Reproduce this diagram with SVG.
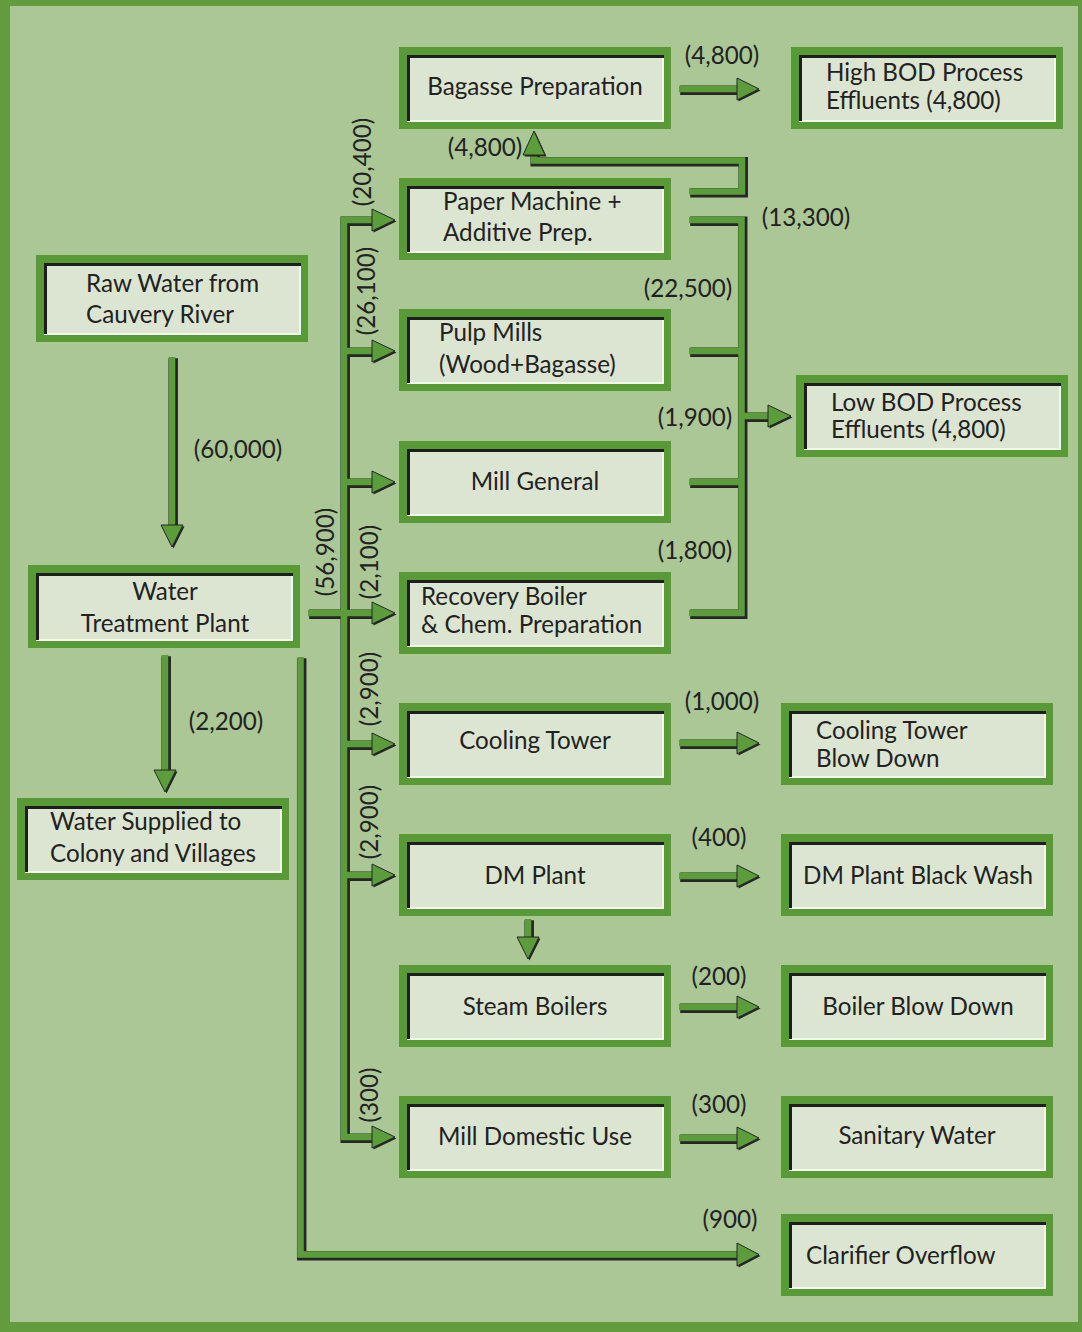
<svg xmlns="http://www.w3.org/2000/svg" width="1082" height="1332" viewBox="0 0 1082 1332">
<style>
.bg{fill:#abc796}
.page{fill:#629c3e}
.frame{fill:#579a36}
.inner{fill:#dbe5d1}
.dk{fill:none;stroke:#1e1e1e;stroke-width:3}
.lt{fill:none;stroke:#f3f6ee;stroke-width:2}
text{font-family:Lato,"Open Sans","Liberation Sans",sans-serif;font-size:24.2px;fill:#222}
.c{text-anchor:middle}
.sh{fill:none;stroke:#262626;stroke-width:9.5;stroke-linejoin:miter}
.ln{fill:none;stroke:#5b9d3a;stroke-width:6.5;stroke-linejoin:miter}
.hs{fill:#262626}
.hd{fill:#5b9d3a;stroke:#262626;stroke-width:1}
</style>
<rect class="page" x="0" y="0" width="1082" height="1332"/>
<rect class="bg" x="10" y="6" width="1068" height="1316"/>

<g id="connectors">
  <g transform="translate(1.2,1.2)">
    <path class="sh" d="M373 220H344V1137H373M344 351H373M344 482H373M308 613H373M344 744H373M344 875H373"/>
    <path class="sh" d="M689 220H741.5V613H689M689 351H741.5M689 482H741.5M741.5 416H769"/>
    <path class="sh" d="M689 191.5H742V160.5H534V153"/>
    <path class="sh" d="M679 89H738M679 743H738M679 876H738M679 1007H738M679 1138H738"/>
    <path class="sh" d="M300.5 657V1254.5H738"/>
    <path class="sh" d="M172 357V526M165 655V771M528 919V938"/>
  </g>
  <path class="ln" d="M373 220H344V1137H373M344 351H373M344 482H373M308 613H373M344 744H373M344 875H373"/>
  <path class="ln" d="M689 220H741.5V613H689M689 351H741.5M689 482H741.5M741.5 416H769"/>
  <path class="ln" d="M689 191.5H742V160.5H534V153"/>
  <path class="ln" d="M679 89H738M679 743H738M679 876H738M679 1007H738M679 1138H738"/>
  <path class="ln" d="M300.5 657V1254.5H738"/>
  <path class="ln" d="M172 357V526M165 655V771M528 919V938"/>
  <g id="heads">
    <g transform="translate(1.5,1.5)" class="hs">
      <path d="M372 209L395 220L372 231Z"/><path d="M372 340L395 351L372 362Z"/><path d="M372 471L395 482L372 493Z"/>
      <path d="M372 602L395 613L372 624Z"/><path d="M372 733L395 744L372 755Z"/><path d="M372 864L395 875L372 886Z"/>
      <path d="M372 1126L395 1137L372 1148Z"/>
      <path d="M768 405L791 416L768 427Z"/>
      <path d="M523 155L534 131L545 155Z"/>
      <path d="M737 78L759 89L737 100Z"/><path d="M737 732L759 743L737 754Z"/><path d="M737 865L759 876L737 887Z"/>
      <path d="M737 996L759 1007L737 1018Z"/><path d="M737 1127L759 1138L737 1149Z"/><path d="M737 1243L759 1254.5L737 1266Z"/>
      <path d="M161 525L172 547L183 525Z"/><path d="M154 770L165 792L176 770Z"/><path d="M517 937L528 959L539 937Z"/>
    </g>
    <g class="hd">
      <path d="M372 209L395 220L372 231Z"/><path d="M372 340L395 351L372 362Z"/><path d="M372 471L395 482L372 493Z"/>
      <path d="M372 602L395 613L372 624Z"/><path d="M372 733L395 744L372 755Z"/><path d="M372 864L395 875L372 886Z"/>
      <path d="M372 1126L395 1137L372 1148Z"/>
      <path d="M768 405L791 416L768 427Z"/>
      <path d="M523 155L534 131L545 155Z"/>
      <path d="M737 78L759 89L737 100Z"/><path d="M737 732L759 743L737 754Z"/><path d="M737 865L759 876L737 887Z"/>
      <path d="M737 996L759 1007L737 1018Z"/><path d="M737 1127L759 1138L737 1149Z"/><path d="M737 1243L759 1254.5L737 1266Z"/>
      <path d="M161 525L172 547L183 525Z"/><path d="M154 770L165 792L176 770Z"/><path d="M517 937L528 959L539 937Z"/>
    </g>
  </g>
  <g id="flow-labels">
    <text class="c" x="722" y="64">(4,800)</text>
    <text class="c" x="485" y="156">(4,800)</text>
    <text class="c" x="806" y="226">(13,300)</text>
    <text class="c" x="688" y="297">(22,500)</text>
    <text class="c" x="695" y="426">(1,900)</text>
    <text class="c" x="695" y="559">(1,800)</text>
    <text class="c" x="238" y="458">(60,000)</text>
    <text class="c" x="226" y="730">(2,200)</text>
    <text class="c" x="722" y="710">(1,000)</text>
    <text class="c" x="719" y="846">(400)</text>
    <text class="c" x="719" y="985">(200)</text>
    <text class="c" x="719" y="1113">(300)</text>
    <text class="c" x="730" y="1228">(900)</text>
    <text class="c" transform="translate(371,162) rotate(-90)">(20,400)</text>
    <text class="c" transform="translate(375,291) rotate(-90)">(26,100)</text>
    <text class="c" transform="translate(334,552) rotate(-90)">(56,900)</text>
    <text class="c" transform="translate(378,562) rotate(-90)">(2,100)</text>
    <text class="c" transform="translate(378,689) rotate(-90)">(2,900)</text>
    <text class="c" transform="translate(378,822) rotate(-90)">(2,900)</text>
    <text class="c" transform="translate(378,1095) rotate(-90)">(300)</text>
  </g>
</g>

<g id="bagasse"><rect class="frame" x="399" y="47" width="272" height="82"/><rect class="inner" x="407" y="55" width="257" height="67"/><path class="lt" d="M408 121H663V56"/><path class="dk" d="M408.5 121V56.5H664"/><text class="c" x="535" y="95">Bagasse Preparation</text></g>
<g id="high-bod"><rect class="frame" x="791" y="47" width="272" height="82"/><rect class="inner" x="799" y="55" width="257" height="67"/><path class="lt" d="M800 121H1055V56"/><path class="dk" d="M800.5 121V56.5H1056"/><text x="826" y="81">High BOD Process</text><text x="826" y="109">Effluents (4,800)</text></g>
<g id="paper-machine"><rect class="frame" x="399" y="178" width="272" height="82"/><rect class="inner" x="407" y="186" width="257" height="67"/><path class="lt" d="M408 252H663V187"/><path class="dk" d="M408.5 252V187.5H664"/><text x="443" y="210">Paper Machine +</text><text x="443" y="241">Additive Prep.</text></g>
<g id="raw-water"><rect class="frame" x="36" y="255" width="272" height="87"/><rect class="inner" x="44" y="263" width="257" height="72"/><path class="lt" d="M45 334H300V264"/><path class="dk" d="M45.5 334V264.5H301"/><text x="86" y="292">Raw Water from</text><text x="86" y="323">Cauvery River</text></g>
<g id="pulp-mills"><rect class="frame" x="399" y="309" width="272" height="82"/><rect class="inner" x="407" y="317" width="257" height="67"/><path class="lt" d="M408 383H663V318"/><path class="dk" d="M408.5 383V318.5H664"/><text x="439" y="341">Pulp Mills</text><text x="439" y="373">(Wood+Bagasse)</text></g>
<g id="low-bod"><rect class="frame" x="796" y="375" width="272" height="82"/><rect class="inner" x="804" y="383" width="257" height="67"/><path class="lt" d="M805 449H1060V384"/><path class="dk" d="M805.5 449V384.5H1061"/><text x="831" y="411">Low BOD Process</text><text x="831" y="438">Effluents (4,800)</text></g>
<g id="mill-general"><rect class="frame" x="399" y="441" width="272" height="82"/><rect class="inner" x="407" y="449" width="257" height="67"/><path class="lt" d="M408 515H663V450"/><path class="dk" d="M408.5 515V450.5H664"/><text class="c" x="535" y="490">Mill General</text></g>
<g id="water-treatment"><rect class="frame" x="28" y="565" width="272" height="83"/><rect class="inner" x="36" y="573" width="257" height="68"/><path class="lt" d="M37 640H292V574"/><path class="dk" d="M37.5 640V574.5H293"/><text class="c" x="165" y="600">Water</text><text class="c" x="165" y="632">Treatment Plant</text></g>
<g id="recovery-boiler"><rect class="frame" x="399" y="572" width="272" height="82"/><rect class="inner" x="407" y="580" width="257" height="67"/><path class="lt" d="M408 646H663V581"/><path class="dk" d="M408.5 646V581.5H664"/><text x="421" y="605">Recovery Boiler</text><text x="421" y="633">&amp; Chem. Preparation</text></g>
<g id="cooling-tower"><rect class="frame" x="399" y="703" width="272" height="82"/><rect class="inner" x="407" y="711" width="257" height="67"/><path class="lt" d="M408 777H663V712"/><path class="dk" d="M408.5 777V712.5H664"/><text class="c" x="535" y="749">Cooling Tower</text></g>
<g id="cooling-blowdown"><rect class="frame" x="781" y="703" width="272" height="82"/><rect class="inner" x="789" y="711" width="257" height="67"/><path class="lt" d="M790 777H1045V712"/><path class="dk" d="M790.5 777V712.5H1046"/><text x="816" y="739">Cooling Tower</text><text x="816" y="767">Blow Down</text></g>
<g id="colony"><rect class="frame" x="17" y="798" width="272" height="82"/><rect class="inner" x="25" y="806" width="257" height="67"/><path class="lt" d="M26 872H281V807"/><path class="dk" d="M26.5 872V807.5H282"/><text x="50" y="830">Water Supplied to</text><text x="50" y="862">Colony and Villages</text></g>
<g id="dm-plant"><rect class="frame" x="399" y="834" width="272" height="82"/><rect class="inner" x="407" y="842" width="257" height="67"/><path class="lt" d="M408 908H663V843"/><path class="dk" d="M408.5 908V843.5H664"/><text class="c" x="535" y="884">DM Plant</text></g>
<g id="dm-blackwash"><rect class="frame" x="781" y="834" width="272" height="82"/><rect class="inner" x="789" y="842" width="257" height="67"/><path class="lt" d="M790 908H1045V843"/><path class="dk" d="M790.5 908V843.5H1046"/><text class="c" x="918" y="884">DM Plant Black Wash</text></g>
<g id="steam-boilers"><rect class="frame" x="399" y="965" width="272" height="82"/><rect class="inner" x="407" y="973" width="257" height="67"/><path class="lt" d="M408 1039H663V974"/><path class="dk" d="M408.5 1039V974.5H664"/><text class="c" x="535" y="1015">Steam Boilers</text></g>
<g id="boiler-blowdown"><rect class="frame" x="781" y="965" width="272" height="82"/><rect class="inner" x="789" y="973" width="257" height="67"/><path class="lt" d="M790 1039H1045V974"/><path class="dk" d="M790.5 1039V974.5H1046"/><text class="c" x="918" y="1015">Boiler Blow Down</text></g>
<g id="mill-domestic"><rect class="frame" x="399" y="1096" width="272" height="82"/><rect class="inner" x="407" y="1104" width="257" height="67"/><path class="lt" d="M408 1170H663V1105"/><path class="dk" d="M408.5 1170V1105.5H664"/><text class="c" x="535" y="1145">Mill Domestic Use</text></g>
<g id="sanitary"><rect class="frame" x="781" y="1096" width="272" height="82"/><rect class="inner" x="789" y="1104" width="257" height="67"/><path class="lt" d="M790 1170H1045V1105"/><path class="dk" d="M790.5 1170V1105.5H1046"/><text class="c" x="917" y="1144">Sanitary Water</text></g>
<g id="clarifier"><rect class="frame" x="781" y="1214" width="272" height="82"/><rect class="inner" x="789" y="1222" width="257" height="67"/><path class="lt" d="M790 1288H1045V1223"/><path class="dk" d="M790.5 1288V1223.5H1046"/><text x="806" y="1264">Clarifier Overflow</text></g>
</svg>
